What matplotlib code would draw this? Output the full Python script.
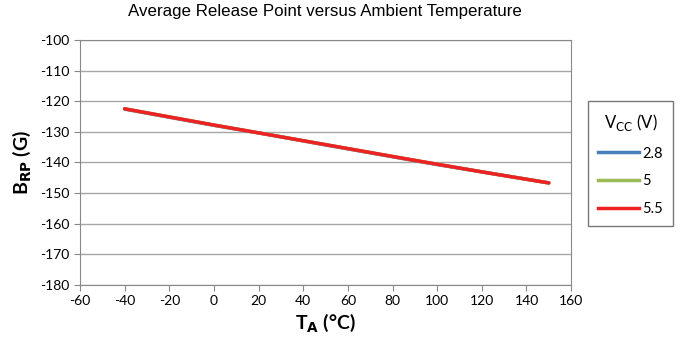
import matplotlib
matplotlib.use("Agg")
import matplotlib.pyplot as plt
from matplotlib.lines import Line2D

temps = [-40, 0, 25, 50, 85, 100, 125, 150]
b_28 = [-122.6, -127.9, -131.0, -134.3, -138.8, -140.7, -143.7, -146.7]
b_5 = [-122.5, -127.8, -131.0, -134.2, -138.7, -140.6, -143.7, -146.7]
b_55 = [-122.5, -127.8, -131.0, -134.2, -138.7, -140.6, -143.7, -146.7]
xticks = list(range(-60, 161, 20))
yticks = list(range(-180, -99, 10))

plt.rcParams['font.family'] = ['Lato', 'DejaVu Sans']
plt.rcParams['axes.unicode_minus'] = False

fig = plt.figure(figsize=(6.84, 3.5), dpi=100)
ax = fig.add_axes([0.117, 0.186, 0.718, 0.700])

ax.plot(temps, b_28, color='#4a7ebb', lw=2.5, solid_capstyle='round')
ax.plot(temps, b_5, color='#98b954', lw=2.5, solid_capstyle='round')
ax.plot(temps, b_55, color='#ee2222', lw=2.5, solid_capstyle='round')

ax.set_xlim(-60, 160)
ax.set_ylim(-180, -100)
ax.set_xticks(xticks)
ax.set_yticks(yticks)
ax.tick_params(labelsize=10, color='#888888', length=4, direction='out')
ax.grid(axis='y', color='#a6a6a6', lw=1)
ax.set_axisbelow(True)
for s in ax.spines.values():
    s.set_color('#888888')

ax.set_xlabel(r'T$_\mathbf{A}$ (°C)', fontsize=14, fontweight='bold', labelpad=3)
ax.set_ylabel(r'B$_\mathbf{RP}$ (G)', fontsize=14, fontweight='bold', labelpad=5)
fig.text(0.475, 0.967, 'Average Release Point versus Ambient Temperature',
         ha='center', va='center', fontsize=12.2, family='Liberation Sans')

handles = [Line2D([], [], color=c, lw=2.5) for c in ['#4a7ebb', '#98b954', '#ee2222']]
leg = fig.legend(handles, ['2.8', '5', '5.5'], title=r'V$_\mathrm{CC}$ (V)',
                 loc='upper left', bbox_to_anchor=(0.849, 0.731),
                 fontsize=10.5, title_fontsize=12, frameon=True, fancybox=False,
                 edgecolor='#555555', handlelength=2.8, handletextpad=0.2,
                 labelspacing=0.95, borderpad=0.7)
leg.get_frame().set_linewidth(1)

fig.savefig('out.png', dpi=100)
